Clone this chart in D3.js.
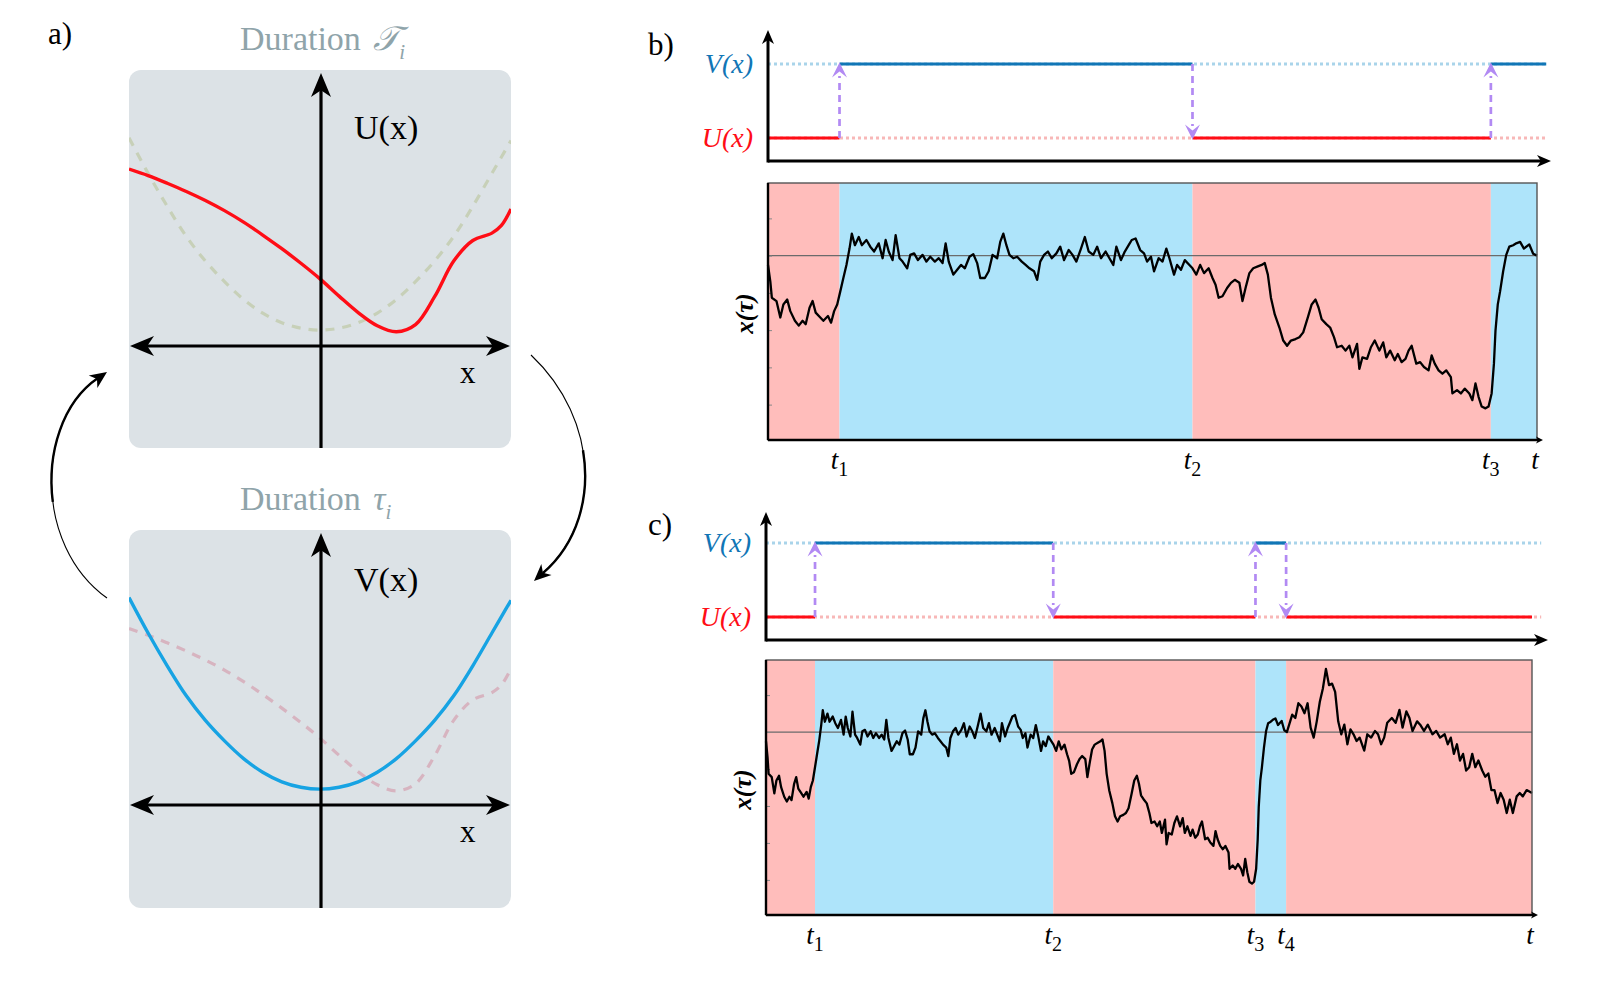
<!DOCTYPE html>
<html><head><meta charset="utf-8">
<script src="https://cdn.jsdelivr.net/npm/d3@7"></script>
<style>body{margin:0;background:#fff}svg{display:block}</style>
</head><body>
<svg id="fig" width="1605" height="994"></svg>
<script>
// ---------------- DATA ----------------
// Panel a: potentials sampled along x
const potX = [-1,-0.9,-0.8,-0.7,-0.6,-0.5,-0.4,-0.3,-0.2,-0.1,0,0.1,0.2,0.3,0.4,0.5,0.6,0.7,0.8,0.9,0.95,1];
const potU = [0.646,0.622,0.594,0.564,0.531,0.494,0.452,0.405,0.355,0.302,0.245,0.182,0.122,0.074,0.052,0.078,0.18,0.31,0.385,0.412,0.44,0.50];
const potV = [0.76,0.63,0.51,0.40,0.31,0.235,0.17,0.12,0.085,0.065,0.058,0.065,0.085,0.12,0.17,0.235,0.31,0.40,0.51,0.63,0.69,0.75];

// Trajectory x(tau) for panel b: [time (% of window), value (tick units)]
const trajB = [[0,-0.25],[0.3,-0.69],[0.5,-1.13],[1.1,-1.22],[1.6,-1.66],[2.0,-1.31],[2.5,-1.18],[2.9,-1.49],[3.5,-1.75],[4.0,-1.88],[4.5,-1.75],[4.9,-1.84],[5.4,-1.40],[5.8,-1.22],[6.2,-1.53],[6.8,-1.66],[7.2,-1.75],[7.8,-1.62],[8.2,-1.80],[8.6,-1.49],[9.0,-1.31],[9.4,-0.96],[9.8,-0.60],[10.2,-0.25],[10.6,0.19],[10.9,0.59],[11.3,0.28],[11.8,0.50],[12.2,0.28],[12.8,0.42],[13.3,0.24],[13.8,0.11],[14.4,0.33],[14.9,-0.07],[15.3,0.42],[15.7,0.11],[16.2,-0.12],[16.6,0.55],[17.1,-0.07],[17.5,-0.16],[18.1,-0.34],[18.5,0.02],[19.0,0.06],[19.5,-0.12],[20.1,0.02],[20.6,-0.16],[21.1,-0.03],[21.7,-0.16],[22.2,-0.07],[22.7,-0.20],[23.1,0.33],[23.5,-0.16],[24.1,-0.51],[24.6,-0.38],[25.1,-0.25],[25.6,-0.34],[26.2,-0.03],[26.7,0.04],[27.2,-0.20],[27.6,-0.60],[28.2,-0.60],[28.7,-0.42],[29.2,0.02],[29.8,-0.07],[30.2,0.37],[30.6,0.59],[31.0,0.28],[31.4,0.02],[31.9,-0.07],[32.4,-0.03],[33.0,-0.16],[33.5,-0.25],[34.0,-0.34],[34.6,-0.42],[35.0,-0.65],[35.4,-0.16],[35.9,0.02],[36.4,0.11],[36.9,-0.07],[37.5,0.06],[38.0,0.24],[38.5,-0.12],[39.1,0.15],[39.6,0.02],[40.1,-0.16],[40.7,0.19],[41.2,0.50],[41.7,0.11],[42.3,0.02],[42.8,0.24],[43.3,-0.07],[43.9,0.11],[44.4,-0.07],[44.9,-0.25],[45.3,0.24],[45.9,-0.12],[46.4,0.11],[46.9,0.28],[47.3,0.42],[47.8,0.46],[48.4,0.15],[48.9,0.06],[49.3,-0.16],[49.8,-0.03],[50.2,-0.42],[50.8,-0.07],[51.3,-0.16],[51.8,0.19],[52.2,-0.07],[52.8,-0.51],[53.2,-0.25],[53.7,-0.38],[54.2,-0.12],[54.8,-0.25],[55.2,-0.34],[55.7,-0.51],[56.2,-0.25],[56.7,-0.47],[57.3,-0.34],[57.8,-0.60],[58.2,-0.78],[58.6,-1.13],[59.1,-1.09],[59.7,-0.87],[60.2,-0.73],[60.7,-0.65],[61.3,-0.73],[61.7,-1.22],[62.1,-0.87],[62.6,-0.47],[63.1,-0.34],[63.7,-0.29],[64.2,-0.25],[64.6,-0.20],[65.0,-0.51],[65.4,-1.13],[65.9,-1.58],[66.5,-1.93],[67.0,-2.28],[67.5,-2.42],[68.0,-2.28],[68.6,-2.24],[69.1,-2.19],[69.6,-2.06],[70.2,-1.66],[70.7,-1.31],[71.2,-1.18],[71.6,-1.40],[72.0,-1.71],[72.6,-1.84],[73.1,-1.93],[73.6,-2.19],[74.0,-2.46],[74.6,-2.42],[75.1,-2.55],[75.6,-2.42],[76.0,-2.73],[76.6,-2.37],[76.9,-3.04],[77.3,-2.73],[77.9,-2.77],[78.4,-2.46],[78.9,-2.28],[79.5,-2.55],[80.0,-2.33],[80.4,-2.73],[80.9,-2.55],[81.5,-2.81],[81.9,-2.64],[82.4,-2.86],[82.9,-2.77],[83.3,-2.55],[83.7,-2.42],[84.3,-2.90],[84.8,-2.86],[85.3,-2.99],[85.9,-3.08],[86.3,-2.68],[86.7,-2.90],[87.2,-3.08],[87.7,-3.17],[88.2,-3.08],[88.8,-3.26],[89.0,-3.70],[89.6,-3.61],[90.1,-3.70],[90.6,-3.57],[91.2,-3.70],[91.6,-3.88],[92.0,-3.43],[92.4,-3.79],[92.8,-4.05],[93.3,-4.10],[93.7,-4.05],[94.1,-3.70],[94.4,-2.90],[94.6,-2.02],[94.9,-1.31],[95.2,-0.96],[95.6,-0.42],[96.0,0.02],[96.4,0.24],[96.9,0.28],[97.3,0.33],[97.8,0.37],[98.3,0.19],[99.0,0.30],[99.5,0.05],[100,0.0]];

// Panel c: same trajectory compressed in time, then continued
const cTimeFactor = 0.68;
const trajCTail = [[68.3,0.20],[68.7,0.47],[69.1,0.38],[69.5,0.78],[69.9,0.69],[70.3,0.51],[70.7,0.78],[71.1,0.12],[71.5,-0.15],[71.9,0.29],[72.3,0.82],[72.7,1.18],[73.1,1.71],[73.5,1.27],[73.9,1.31],[74.3,1.09],[74.7,0.29],[75.1,-0.06],[75.5,0.20],[75.9,-0.33],[76.3,0.07],[76.7,-0.06],[77.1,-0.24],[77.5,-0.15],[78.1,-0.50],[78.5,-0.06],[79.0,-0.15],[79.5,0.03],[79.9,-0.06],[80.3,-0.33],[80.7,-0.15],[81.1,0.25],[81.7,0.38],[82.2,0.25],[82.7,0.60],[83.1,0.12],[83.6,0.56],[84.0,0.38],[84.4,0.03],[85.0,0.29],[85.4,0.20],[85.9,0.03],[86.4,0.20],[87.0,-0.06],[87.5,0.03],[88.0,-0.15],[88.6,-0.06],[89.0,-0.33],[89.4,-0.15],[89.8,-0.59],[90.2,-0.33],[90.6,-0.77],[91.0,-0.59],[91.4,-1.04],[91.8,-0.95],[92.2,-0.59],[92.6,-0.95],[93.0,-0.77],[93.5,-1.04],[93.9,-1.21],[94.3,-1.12],[94.7,-1.57],[95.1,-1.57],[95.5,-1.92],[95.9,-1.65],[96.3,-1.83],[96.7,-2.19],[97.1,-1.83],[97.5,-2.19],[98.0,-1.74],[98.4,-1.65],[98.8,-1.74],[99.3,-1.57],[100,-1.65]];

const switchB = [9.3, 55.2, 94.0];
const switchC = [6.4, 37.5, 63.9, 67.9];
const yTicks = [1, 0, -1, -2, -3, -4];
const levelNames = ["U(x)", "V(x)"];

// ---------------- DRAWING ----------------
const svg = d3.select('#fig');
const serif = '"Liberation Serif","Times New Roman",serif';
const C = {red:'#ff0d16', blue:'#1176b6', pinkDot:'#f8b8b8', blueDot:'#a9d4ea', purple:'#b28af3',
           bandU:'#ffbdbb', bandV:'#aee4fa', box:'#dce2e6', title:'#8fa4aa', potBlue:'#17a3e3'};

function barb(g, x, y, ang, len, hw, color, notch=0.72){
  const p = [[0,0],[-len,-hw],[-len*notch,0],[-len,hw]];
  g.append('path').attr('d','M'+p.map(q=>q.join(',')).join('L')+'Z').attr('fill',color)
    .attr('transform',`translate(${x},${y}) rotate(${ang})`);
}

// ---- Panel a ----
const gA = svg.append('g');
gA.append('text').attr('x',48).attr('y',44).attr('font-family',serif).attr('font-size',31).text('a)');
const ax = d3.scaleLinear().domain([-1,1]).range([129,511]);

function potPanel(y0, axisY, main, mainColor, ghost, ghostColor, lab, labY, sym, symFam){
  const ay = d3.scaleLinear().domain([0,1]).range([axisY, y0+2]);
  const clipId = 'clip'+y0;
  gA.append('clipPath').attr('id',clipId).append('rect').attr('x',129).attr('y',y0).attr('width',382).attr('height',378).attr('rx',12);
  gA.append('rect').attr('x',129).attr('y',y0).attr('width',382).attr('height',378).attr('rx',12).attr('fill',C.box);
  const line = d3.line().x((d,i)=>ax(potX[i])).y(d=>ay(d)).curve(d3.curveCatmullRom.alpha(0.5));
  const cg = gA.append('g').attr('clip-path',`url(#${clipId})`);
  cg.append('path').attr('d',line(ghost)).attr('fill','none').attr('stroke',ghostColor).attr('stroke-width',3.2).attr('stroke-dasharray','9,8');
  cg.append('path').attr('d',line(main)).attr('fill','none').attr('stroke',mainColor).attr('stroke-width',3.4);
  // axes
  const x0 = ax(0)+1;
  gA.append('line').attr('x1',x0).attr('x2',x0).attr('y1',y0+378).attr('y2',y0+20).attr('stroke','#000').attr('stroke-width',3.2);
  barb(gA, x0, y0+3, -90, 24, 10, '#000');
  gA.append('line').attr('x1',ax(-1)+18).attr('x2',ax(1)-18).attr('y1',axisY).attr('y2',axisY).attr('stroke','#000').attr('stroke-width',3.2);
  barb(gA, ax(-1)+1, axisY, 180, 24, 10, '#000');
  barb(gA, ax(1)-1, axisY, 0, 24, 10, '#000');
  gA.append('text').attr('x',354).attr('y',labY).attr('font-family',serif).attr('font-size',34).text(lab);
  gA.append('text').attr('x',460).attr('y',axisY+37).attr('font-family',serif).attr('font-size',31).text('x');
  const t = gA.append('text').attr('x',240).attr('y',y0-20).attr('font-family',serif).attr('font-size',34).attr('fill',C.title);
  t.append('tspan').text('Duration ');
  t.append('tspan').attr('font-style','italic').attr('font-family',symFam).attr('dx',4).text(sym);
  t.append('tspan').attr('font-style','italic').attr('font-size',21).attr('dy',9).text('i');
}
potPanel(70, 346, potU, C.red, potV, '#c7d0b8', 'U(x)', 139, '𝒯', '"DejaVu Serif",serif');
potPanel(530, 805, potV, C.potBlue, potU, '#d7b4c0', 'V(x)', 591, 'τ', serif);

function curvedArrow(d, tx, ty, ang){
  const p = gA.append('path').attr('d',d).attr('fill','none').attr('stroke','#000').attr('stroke-width',1.1);
  const L = p.node().getTotalLength();
  gA.append('path').attr('d',d).attr('fill','none').attr('stroke','#000').attr('stroke-width',2.4)
    .attr('stroke-dasharray',`0 ${L*0.45} ${L*0.55}`);
  barb(gA, tx, ty, ang, 17, 7.5, '#000');
}
curvedArrow('M531,355 C600,420 602,522 543,573', 534, 581, 137);
curvedArrow('M107,598 C33,545 36,420 98,378', 107, 372, -35);

// ---- Panels b and c ----
function switchPanel(o){
  const g = svg.append('g');
  g.append('text').attr('x',648).attr('y',o.labelY).attr('font-family',serif).attr('font-size',31).text(o.label);
  const xs = d3.scaleLinear().domain([0,100]).range([o.x0, o.x1]);
  const lv = d3.scaleLinear().domain([0,1]).range([o.uY, o.vY]);
  const tEnd = 101.2;
  g.append('line').attr('x1',xs(0)).attr('x2',xs(tEnd)).attr('y1',lv(0)).attr('y2',lv(0)).attr('stroke',C.pinkDot).attr('stroke-width',3).attr('stroke-dasharray','3,3');
  g.append('line').attr('x1',xs(0)).attr('x2',xs(tEnd)).attr('y1',lv(1)).attr('y2',lv(1)).attr('stroke',C.blueDot).attr('stroke-width',3).attr('stroke-dasharray','3,3');
  const bounds = [0, ...o.sw, o.redEnd];
  const segs = d3.pairs(bounds).map((p,i)=>({a:p[0], b:p[1], s:i%2}));
  segs[segs.length-1].b = segs[segs.length-1].s===1 ? tEnd : o.redEnd;
  g.selectAll(null).data(segs).join('line')
    .attr('x1',d=>xs(d.a)).attr('x2',d=>xs(d.b)).attr('y1',d=>lv(d.s)).attr('y2',d=>lv(d.s))
    .attr('stroke',d=>d.s? C.blue : C.red).attr('stroke-width',3.2);
  o.sw.forEach((t,i)=>{
    const from = i%2, to = 1-from;
    const yA = lv(from), yB = lv(to);
    const dir = yB<yA ? -1 : 1;
    g.append('line').attr('x1',xs(t)).attr('x2',xs(t)).attr('y1',yA).attr('y2',yB-dir*12)
      .attr('stroke',C.purple).attr('stroke-width',2.7).attr('stroke-dasharray','7,5');
    barb(g, xs(t), yB+dir*1.5, dir<0?-90:90, 15, 7.5, C.purple, 0.6);
  });
  g.append('line').attr('x1',o.x0).attr('x2',o.axEnd-8).attr('y1',o.axY).attr('y2',o.axY).attr('stroke','#000').attr('stroke-width',3);
  barb(g, o.axEnd, o.axY, 0, 14, 6, '#000');
  g.append('line').attr('x1',o.x0).attr('x2',o.x0).attr('y1',o.axY+1.5).attr('y2',o.axTop+8).attr('stroke','#000').attr('stroke-width',3);
  barb(g, o.x0, o.axTop, -90, 14, 6, '#000');
  [[1,C.blue],[0,C.red]].forEach(([s,col])=>{
    g.append('text').attr('x',o.x0-15).attr('y',lv(s)+9).attr('text-anchor','end').attr('font-family',serif)
      .attr('font-style','italic').attr('font-size',28).attr('fill',col).text(levelNames[s]);
  });

  const ys = d3.scaleLinear().domain([-4.95,1.95]).range([o.by1, o.by0]);
  const bands = d3.pairs([0, ...o.sw, 100]).map((p,i)=>({a:p[0], b:p[1], s:i%2}));
  g.selectAll(null).data(bands).join('rect')
    .attr('x',d=>xs(d.a)).attr('width',d=>xs(d.b)-xs(d.a)).attr('y',o.by0).attr('height',o.by1-o.by0)
    .attr('fill',d=>d.s? C.bandV : C.bandU);
  g.append('line').attr('x1',xs(0)).attr('x2',xs(100)).attr('y1',ys(0)).attr('y2',ys(0)).attr('stroke','#6b6b6b').attr('stroke-width',1.3);
  const yAxis = d3.axisLeft(ys).tickValues(yTicks).tickSize(-4).tickFormat('');
  const ya = g.append('g').attr('transform',`translate(${xs(0)},0)`).call(yAxis);
  ya.select('.domain').remove();
  ya.selectAll('line').attr('stroke','#888').attr('stroke-width',1);
  const traj = d3.line().x(d=>xs(d[0])).y(d=>ys(d[1]));
  g.append('path').attr('d',traj(o.traj)).attr('fill','none').attr('stroke','#000').attr('stroke-width',2.3).attr('stroke-linejoin','round');
  g.append('rect').attr('x',xs(0)).attr('y',o.by0).attr('width',xs(100)-xs(0)).attr('height',o.by1-o.by0)
    .attr('fill','none').attr('stroke','#555').attr('stroke-width',1.4);
  g.append('line').attr('x1',xs(0)).attr('x2',xs(0)).attr('y1',o.by0).attr('y2',o.by1).attr('stroke','#000').attr('stroke-width',2.4);
  g.append('line').attr('x1',xs(0)).attr('x2',xs(100)+2).attr('y1',o.by1).attr('y2',o.by1).attr('stroke','#000').attr('stroke-width',2.6);
  barb(g, xs(100)+6, o.by1, 0, 7, 3.5, '#000');
  g.append('text').attr('transform',`translate(${o.x0-15},${(o.by0+o.by1)/2+2}) rotate(-90)`).attr('text-anchor','middle')
    .attr('font-family',serif).attr('font-style','italic').attr('font-weight','bold').attr('font-size',25).text('x(τ)');
  o.sw.forEach((t,i)=>{
    const tx = g.append('text').attr('x',xs(t)).attr('y',o.by1+29).attr('text-anchor','middle')
      .attr('font-family',serif).attr('font-style','italic').attr('font-size',27);
    tx.append('tspan').text('t');
    tx.append('tspan').attr('font-style','normal').attr('font-size',20).attr('dy',7).text(String(i+1));
  });
  g.append('text').attr('x',xs(100)-2).attr('y',o.by1+29).attr('text-anchor','middle')
    .attr('font-family',serif).attr('font-style','italic').attr('font-size',27).text('t');
}

switchPanel({label:'b)', labelY:55, x0:768, x1:1537, vY:64, uY:138, axY:161, axTop:30, axEnd:1551,
  sw:switchB, redEnd:101.2, by0:183, by1:440, traj:trajB});

const trajC = trajB.map(d=>[d[0]*cTimeFactor, d[1]]).concat(trajCTail);
switchPanel({label:'c)', labelY:535, x0:766, x1:1532, vY:543, uY:617, axY:640, axTop:512, axEnd:1548,
  sw:switchC, redEnd:100, by0:660, by1:915, traj:trajC});
</script>
</body></html>
